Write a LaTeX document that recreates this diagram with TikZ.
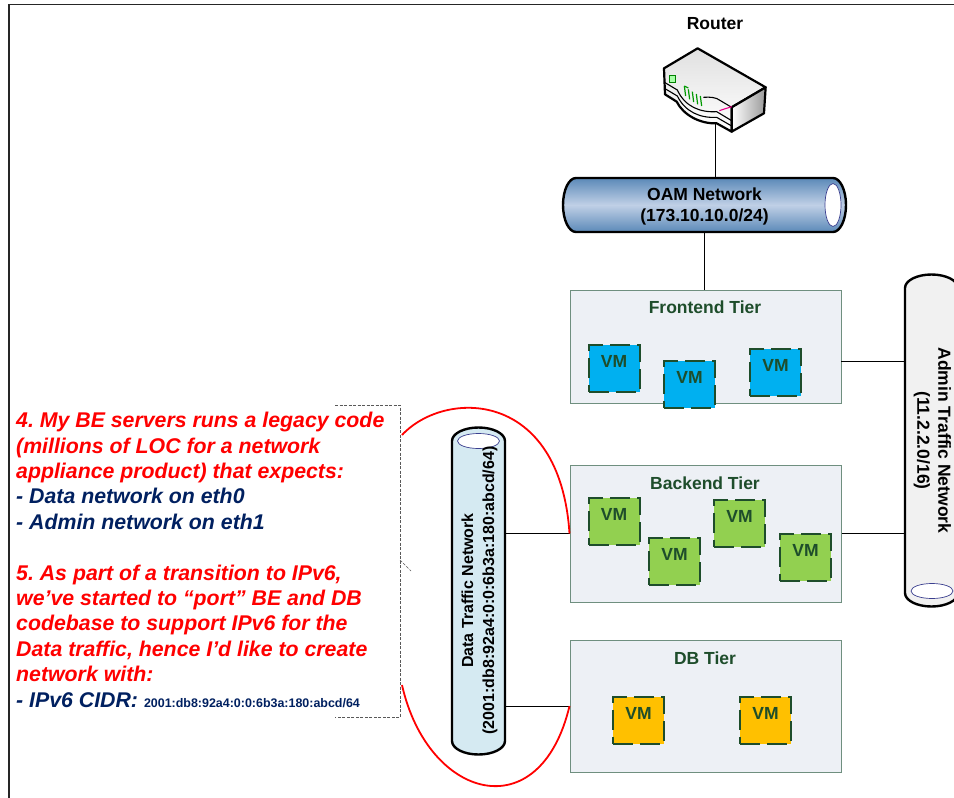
\documentclass[tikz,border=0pt]{standalone}
\usepackage{fontspec}
\setmainfont{Liberation Sans}
\usetikzlibrary{calc}
\definecolor{tiergreen}{HTML}{1E4D2B}
\definecolor{tierfill}{HTML}{EDF0F5}
\definecolor{tierline}{HTML}{6F8F7F}
\definecolor{notenavy}{HTML}{002060}
\definecolor{vmblue}{HTML}{00B0F0}
\definecolor{vmgreen}{HTML}{92D050}
\definecolor{vmorange}{HTML}{FFC000}
\definecolor{pipeblue}{HTML}{5B89B8}
\definecolor{pipemid}{HTML}{C0D0E6}
\definecolor{pipecyan}{HTML}{D5EAF2}
\definecolor{pipegrey}{HTML}{F1F1F1}
\definecolor{pipering}{HTML}{3B3F8F}
\def\bigbold{\fontsize{17.5}{21}\selectfont\bfseries}
\tikzset{
	tierbox/.style={draw=tierline, line width=1pt, fill=tierfill, minimum width=271pt, inner sep=0pt},
	tiertitle/.style={text=tiergreen, font=\bigbold},
	vmbox/.style={draw=tiergreen, line width=2pt, dash pattern=on 20pt off 7pt, minimum width=51pt, minimum height=47pt, inner sep=6pt, text height=16.5pt, text depth=18.5pt, text=tiergreen, font=\bigbold},
	pipe/.style={draw=black, line width=2.4pt},
	pipetext/.style={align=center, text=black, inner sep=0pt},
	wire/.style={draw=black, line width=1pt},
	redcurve/.style={draw=red, line width=1.8pt},
	notebox/.style={draw=black!65, line width=0.8pt, dash pattern=on 3pt off 1.5pt}
}

\begin{document}
\begin{tikzpicture}[x=1pt,y=-1pt]
		%%%%% START %%%%%
		\clip (0, 0) rectangle (954, 798);
		\fill[white] (0, 0) rectangle (954, 798);
		\draw[line width=1.5pt, black!85] (9, 798) -- (9, 4.5) -- (954, 4.5);
		
		% tiers
		\node[tierbox, minimum height=113pt] (frontend) at (705.5, 346.5) {};
		\node[tierbox, minimum height=137pt] (backend) at (705.5, 533.5) {};
		\node[tierbox, minimum height=132pt] (dbtier) at (705.5, 706) {};
		\node[tiertitle] (fetitle) at (705, 307) {Frontend Tier};
		\node[tiertitle] (betitle) at (705, 483) {Backend Tier};
		\node[tiertitle] (dbtitle) at (705, 658) {DB Tier};
		
		% VMs
		\node[vmbox, fill=vmblue] (fevma) at (614, 368.5) {VM};
		\node[vmbox, fill=vmblue] (fevmb) at (689.5, 384) {VM};
		\node[vmbox, fill=vmblue] (fevmc) at (775.5, 372) {VM};
		\node[vmbox, fill=vmgreen] (bevma) at (614, 521.5) {VM};
		\node[vmbox, fill=vmgreen] (bevmb) at (674.5, 561.5) {VM};
		\node[vmbox, fill=vmgreen] (bevmc) at (739.5, 523) {VM};
		\node[vmbox, fill=vmgreen] (bevmd) at (805.5, 557) {VM};
		\node[vmbox, fill=vmorange] (dbvma) at (638.5, 720) {VM};
		\node[vmbox, fill=vmorange] (dbvmb) at (765.5, 720) {VM};
		
		% OAM pipe
		\draw[pipe, top color=pipeblue, bottom color=pipeblue, middle color=pipemid] (576, 178) arc[start angle=90, end angle=270, x radius=13pt, y radius=27pt] -- (833, 232) arc[start angle=-90, end angle=90, x radius=13pt, y radius=27pt] -- cycle;
		\draw[pipering, fill=white, line width=0.7pt] (833, 205) ellipse (8pt and 21.5pt);
		\node[pipetext, font=\bigbold, minimum width=283pt, minimum height=54pt] (oamnet) at (704.5, 206) {OAM Network\\(173.10.10.0/24)};
		
		% data pipe
		\draw[pipe, fill=pipecyan] (452, 441) arc[start angle=180, end angle=0, x radius=26.5pt, y radius=13.5pt] -- (505, 741) arc[start angle=0, end angle=-180, x radius=26.5pt, y radius=13.5pt] -- cycle;
		\draw[pipering, fill=white, line width=0.7pt] (478.5, 441) ellipse (21pt and 7.5pt);
		\node[pipetext, rotate=90, font=\fontsize{16}{21}\selectfont\bfseries, minimum width=327pt, minimum height=53pt] (datanet) at (479.5, 590.5) {Data Traffic Network\\(2001:db8:92a4:0:0:6b3a:180:abcd/64)};
		
		% admin pipe
		\draw[pipe, fill=pipegrey] (905, 288) arc[start angle=180, end angle=0, x radius=26.5pt, y radius=13.5pt] -- (958, 593) arc[start angle=0, end angle=-180, x radius=26.5pt, y radius=13.5pt] -- cycle;
		\draw[pipering, fill=white, line width=0.7pt] (932, 591) ellipse (21pt and 7.5pt);
		\node[pipetext, rotate=-90, font=\bigbold, minimum width=331pt, minimum height=53pt] (adminnet) at (932.5, 440.5) {Admin Traffic Network\\(11.2.2.0/16)};
		
		% router
		\begin{scope}[shift={(620, 0)}, x=0.3333pt, y=-0.3333pt]
			\draw[line width=2.2pt, line join=round, top color=black!12, bottom color=white] (233, 145) -- (437, 262) -- (335, 322) -- (335, 395) -- (290, 370) .. controls (240, 372) and (190, 345) .. (170, 305) -- (135, 283) -- (132, 205) -- cycle;
			\draw[line width=2.2pt, line join=round, left color=white, right color=black!40] (335, 322) -- (437, 262) -- (432, 340) -- (335, 395) -- cycle;
			\draw[line width=1.1pt] (250, 292) .. controls (270, 290) and (290, 293) .. (298, 300) -- (335, 322);
			\draw[line width=1.1pt] (135, 248) -- (172, 270) .. controls (195, 320) and (240, 338) .. (290, 335) -- (335, 362);
			\draw[line width=1.1pt] (135, 266) -- (172, 288) .. controls (195, 335) and (240, 355) .. (290, 352) -- (335, 378);
			\draw[line width=1.1pt, green!50!black, fill=green!35!white] (148, 226) rectangle (167, 248);
			\draw[line width=1.2pt, green!60!black] (193, 258) -- (205, 264) (193, 258) -- (197, 288) (205, 268) -- (209, 298) (217, 275) -- (221, 306) (229, 282) -- (233, 313) (241, 288) -- (245, 318);
			\draw[line width=1.1pt, magenta] (298, 332) -- (335, 320);
		\end{scope}
		\coordinate (routerbase) at (715, 124);
		\node[font=\bigbold, text=black] (routerlabel) at (715, 24) {Router};
		
		% wires
		\draw[wire] (routerbase) -- (routerbase |- oamnet.north);
		\draw[wire] (oamnet.south) -- (oamnet.south |- frontend.north);
		\coordinate (adminport) at (841, 361);
		\draw[wire] (adminport) -- (adminnet.south |- adminport);
		\draw[wire] (backend.east) -- (adminnet.south |- backend.east);
		\draw[wire] (datanet.south |- backend.west) -- (backend.west);
		\draw[wire] (datanet.south |- dbtier.west) -- (dbtier.west);
		
		% note
		\coordinate (noteup) at (402, 435);
		\coordinate (notedown) at (402, 685);
		\draw[notebox] (335, 405) -| (400, 717) -- (335, 717);
		\draw[notebox, line width=0.5pt] (400, 560) -- (411, 571);
		\draw[redcurve] (noteup) .. controls (445, 389) and (560, 389) .. (backend.west);
		\draw[redcurve] (notedown) .. controls (428, 800) and (540, 830) .. (dbtier.west);
		\node[anchor=north west, align=left, inner sep=0pt, text=red, font=\frenchspacing\fontsize{21.3}{25.4}\selectfont\bfseries\itshape] (notetext) at (16, 412) {4. My BE servers runs a legacy code\\(millions of LOC for a network\\appliance product) that expects:\\\textcolor{notenavy}{- Data network on eth0}\\\textcolor{notenavy}{- Admin network on eth1}\\[25.4pt]5. As part of a transition to IPv6,\\we’ve started to “port” BE and DB\\codebase to support IPv6 for the\\Data traffic, hence I’d like to create\\network with:\\\textcolor{notenavy}{- IPv6 CIDR: {\fontsize{12.45}{14}\selectfont\upshape 2001:db8:92a4:0:0:6b3a:180:abcd/64}}};
		%%%%% END %%%%%
	\end{tikzpicture}
\end{document}
